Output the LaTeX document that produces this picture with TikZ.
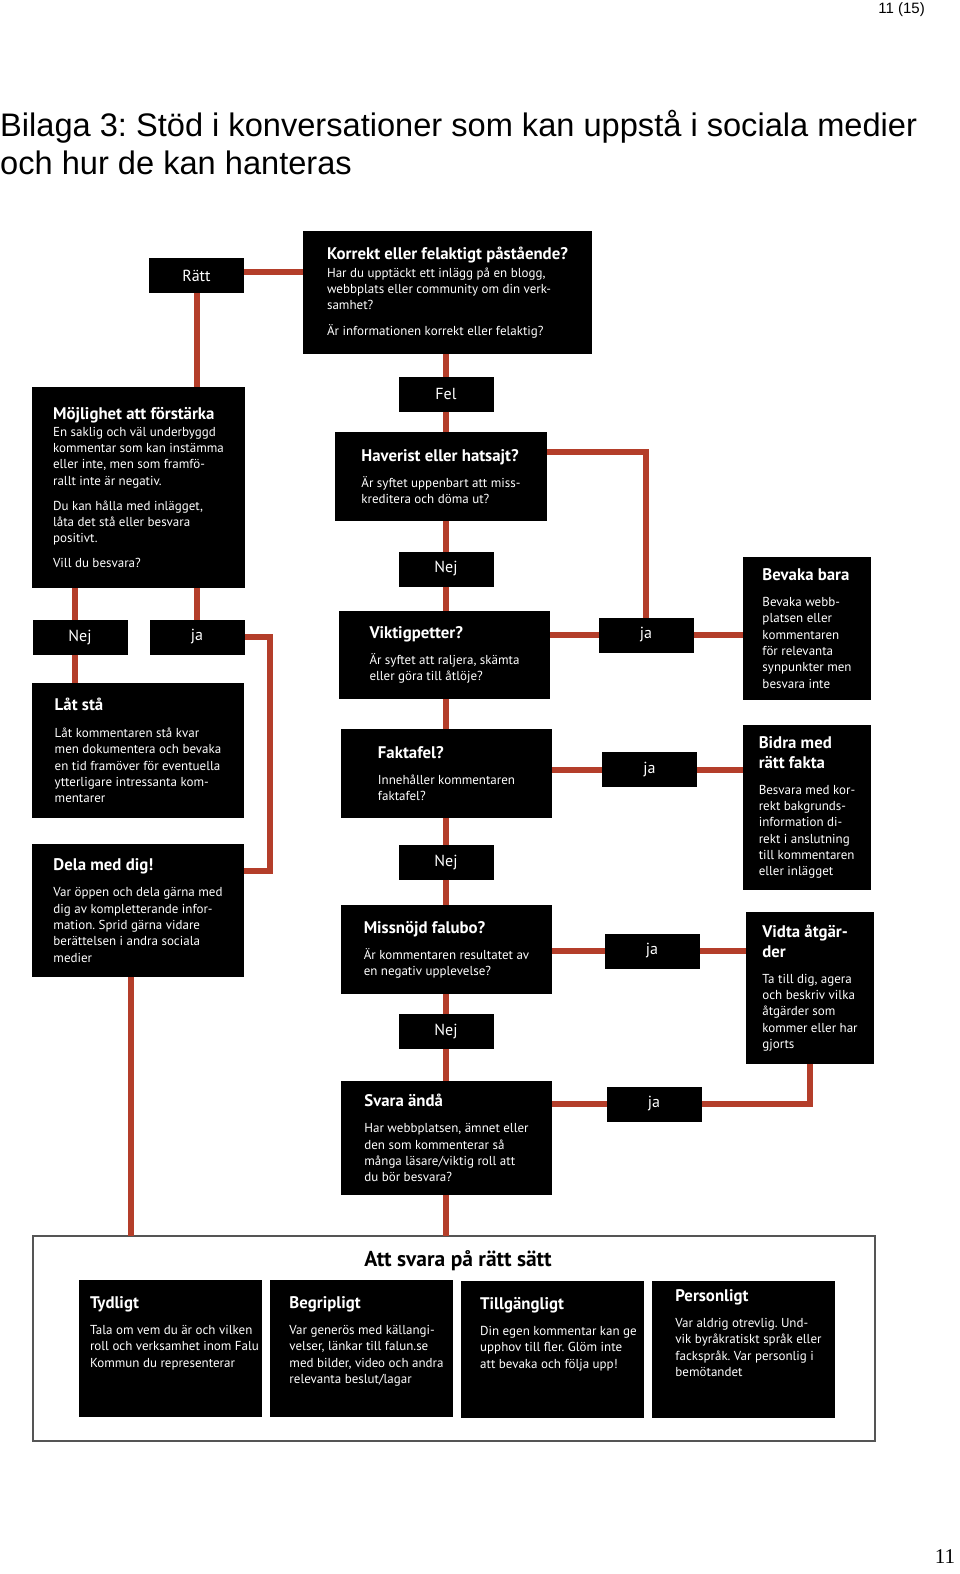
\documentclass[tikz,border=0pt]{standalone}
\usepackage{fontspec}
\setmainfont{PT Sans}
\newfontfamily\headfont{Liberation Sans}
\newfontfamily\numfont{Liberation Serif}
\definecolor{linered}{RGB}{180,62,42}
\definecolor{framegray}{RGB}{85,85,85}
\newcommand{\bodyfont}{\frenchspacing\fontsize{13}{16.3}\selectfont}
\newcommand{\boxhead}[1]{{\bfseries\fontsize{16.8}{16.3}\selectfont #1}}
\begin{document}
\frenchspacing
\begin{tikzpicture}[x=1pt,y=-1pt,
    qbox/.style={fill=black,text=white,align=left,inner sep=0pt,outer sep=0pt,font=\bodyfont},
    tagbox/.style={fill=black,text=white,inner sep=0pt,outer sep=0pt,minimum width=95pt,minimum height=35pt,font=\fontsize{16}{19}\selectfont},
    tipbox/.style={fill=black,text=white,outer sep=0pt,inner xsep=0pt,inner ysep=6.5pt,minimum width=183pt,minimum height=137pt,text height=22pt,text depth=102pt,font=\bodyfont},
    redline/.style={draw=linered,line width=6pt}]
    \useasboundingbox (0,0) rectangle (960,1574);
    % page head
    \node[anchor=north east,inner sep=0pt,font=\headfont\fontsize{15}{18}\selectfont] (pageno) at (925,2) {11 (15)};
    \node[anchor=north west,inner sep=0pt,align=left,font=\headfont\frenchspacing\fontsize{32.6}{38}\selectfont] (head) at (0,110)
        {Bilaga 3: Stöd i konversationer som kan uppstå i sociala medier\\och hur de kan hanteras};
    \node[font=\numfont\fontsize{21}{24}\selectfont] (footno) at (945,1557) {11};

    % top
    \node[tagbox] (rat) at (196.5,275.5) {Rätt};
    \node[qbox,minimum width=289pt,minimum height=123pt] (korr) at (447.5,292.5)
        {\boxhead{Korrekt eller felaktigt påstående?}\\[1.7pt]
         Har du upptäckt ett inlägg på en blogg,\\
         webbplats eller community om din verk-\\
         samhet?\\[9.7pt]
         Är informationen korrekt eller felaktig?};

    % left column
    \node[qbox,minimum width=213pt,minimum height=201pt] (moj) at (138.5,487.5)
        {\boxhead{Möjlighet att förstärka}\\[0.7pt]
         En saklig och väl underbyggd\\
         kommentar som kan instämma\\
         eller inte, men som framfö-\\
         rallt inte är negativ.\\[8.7pt]
         Du kan hålla med inlägget,\\
         låta det stå eller besvara\\
         positivt.\\[8.7pt]
         Vill du besvara?};
    \node[tagbox] (nejL) at (80,637) {Nej};
    \node[tagbox] (jaL) at (197,637) {ja};
    \node[qbox,minimum width=212pt,minimum height=135pt] (lat) at (138,750.5)
        {\boxhead{Låt stå}\\[10.7pt]
         Låt kommentaren stå kvar\\
         men dokumentera och bevaka\\
         en tid framöver för eventuella\\
         ytterligare intressanta kom-\\
         mentarer};
    \node[qbox,minimum width=212pt,minimum height=133pt] (del) at (138,910.5)
        {\boxhead{Dela med dig!}\\[9.7pt]
         Var öppen och dela gärna med\\
         dig av kompletterande infor-\\
         mation. Sprid gärna vidare\\
         berättelsen i andra sociala\\
         medier};

    % middle column
    \node[tagbox] (fel) at (446,394) {Fel};
    \node[qbox,minimum width=212pt,minimum height=89pt] (hav) at (441,476.5)
        {\boxhead{Haverist eller hatsajt?}\\[9.7pt]
         Är syftet uppenbart att miss-\\
         kreditera och döma ut?};
    \node[tagbox] (nejA) at (446,569) {Nej};
    \node[qbox,minimum width=211pt,minimum height=88pt] (vik) at (444.5,655)
        {\boxhead{Viktigpetter?}\\[9.7pt]
         Är syftet att raljera, skämta\\
         eller göra till åtlöje?};
    \node[qbox,minimum width=211pt,minimum height=89pt] (fak) at (446.5,773.5)
        {\boxhead{Faktafel?}\\[9.7pt]
         Innehåller kommentaren\\
         faktafel?};
    \node[tagbox] (nejB) at (446,862) {Nej};
    \node[qbox,minimum width=211pt,minimum height=89pt] (mis) at (446.5,949.5)
        {\boxhead{Missnöjd falubo?}\\[9.7pt]
         Är kommentaren resultatet av\\
         en negativ upplevelse?};
    \node[tagbox] (nejC) at (446,1031.5) {Nej};
    \node[qbox,minimum width=211pt,minimum height=114pt] (sva) at (446.5,1138)
        {\boxhead{Svara ändå}\\[9.7pt]
         Har webbplatsen, ämnet eller\\
         den som kommenterar så\\
         många läsare/viktig roll att\\
         du bör besvara?};

    % right column
    \node[tagbox] (jaA) at (646,635) {ja};
    \node[tagbox] (jaB) at (649.5,769.5) {ja};
    \node[tagbox] (jaC) at (652,951) {ja};
    \node[tagbox] (jaD) at (654,1104) {ja};
    \node[qbox,minimum width=128pt,minimum height=143pt] (bev) at (807,628.5)
        {\boxhead{Bevaka bara}\\[9.7pt]
         Bevaka webb-\\
         platsen eller\\
         kommentaren\\
         för relevanta\\
         synpunkter men\\
         besvara inte};
    \node[qbox,minimum width=128pt,minimum height=165pt] (bid) at (807,807.5)
        {\boxhead{Bidra med}\\[3.7pt]
         \boxhead{rätt fakta}\\[9.7pt]
         Besvara med kor-\\
         rekt bakgrunds-\\
         information di-\\
         rekt i anslutning\\
         till kommentaren\\
         eller inlägget};
    \node[qbox,minimum width=128pt,minimum height=152pt] (vid) at (810,988)
        {\boxhead{Vidta åtgär-}\\[3.7pt]
         \boxhead{der}\\[9.7pt]
         Ta till dig, agera\\
         och beskriv vilka\\
         åtgärder som\\
         kommer eller har\\
         gjorts};

    % bottom frame
    \node[draw=framegray,line width=1.6pt,fill=white,inner sep=0pt,outer sep=0pt,minimum width=842pt,minimum height=205pt] (frame) at (454,1338.5) {};
    \node[font=\bfseries\fontsize{21.5}{23}\selectfont] (frametitle) at (458,1261) {Att svara på rätt sätt};
    \node[tipbox] (tyd) at (170.5,1348.5)
        {\begin{tabular}[t]{@{\hspace{8pt}}l@{}}\boxhead{Tydligt}\\[9.7pt]
         Tala om vem du är och vilken\\
         roll och verksamhet inom Falu\\
         Kommun du representerar\end{tabular}};
    \node[tipbox] (beg) at (361.5,1348.5)
        {\begin{tabular}[t]{@{\hspace{10pt}}l@{}}\boxhead{Begripligt}\\[9.7pt]
         Var generös med källangi-\\
         velser, länkar till falun.se\\
         med bilder, video och andra\\
         relevanta beslut/lagar\end{tabular}};
    \node[tipbox] (til) at (552.5,1349.5)
        {\begin{tabular}[t]{@{\hspace{12pt}}l@{}}\boxhead{Tillgängligt}\\[9.7pt]
         Din egen kommentar kan ge\\
         upphov till fler. Glöm inte\\
         att bevaka och följa upp!\end{tabular}};
    \node[tipbox,text height=14pt,text depth=110pt] (per) at (743.5,1349.5)
        {\begin{tabular}[t]{@{\hspace{10pt}}l@{}}\boxhead{Personligt}\\[9.7pt]
         Var aldrig otrevlig. Und-\\
         vik byråkratiskt språk eller\\
         fackspråk. Var personlig i\\
         bemötandet\end{tabular}};

    % connectors
    \draw[redline] ([yshift=4pt]rat.east) -- ([yshift=4pt]rat.east -| korr.west);
    \draw[redline] (rat.south) -- (rat.south |- moj.north);
    \draw[redline] (fel |- korr.south) -- (fel.north);
    \draw[redline] (fel.south) -- (fel.south |- hav.north);
    \draw[redline] (nejA.north |- hav.south) -- (nejA.north);
    \draw[redline] (nejA.south) -- (nejA.south |- vik.north);
    \draw[redline] (nejA.south |- vik.south) -- (nejA.south |- fak.north);
    \draw[redline] (nejB.north |- fak.south) -- (nejB.north);
    \draw[redline] (nejB.south) -- (nejB.south |- mis.north);
    \draw[redline] (nejC.north |- mis.south) -- (nejC.north);
    \draw[redline] (nejC.south) -- (nejC.south |- sva.north);
    \draw[redline] (nejC.south |- sva.south) -- (nejC.south |- frame.north);
    \draw[redline] ([yshift=-20pt]hav.north east) -| (jaA.north);
    \draw[redline] (jaA.west -| vik.east) -- (jaA.west);
    \draw[redline] (jaA.east) -- (jaA.east -| bev.west);
    \draw[redline] (jaB.west -| fak.east) -- (jaB.west);
    \draw[redline] (jaB.east) -- (jaB.east -| bid.west);
    \draw[redline] (jaC.west -| mis.east) -- (jaC.west);
    \draw[redline] (jaC.east) -- (jaC.east -| vid.west);
    \draw[redline] (jaD.west -| sva.east) -- (jaD.west);
    \draw[redline] (jaD.east) -| (vid.south);
    \draw[redline] ([xshift=-5pt]nejL.north |- moj.south) -- ([xshift=-5pt]nejL.north);
    \draw[redline] ([xshift=-5pt]nejL.south) -- ([xshift=-5pt]nejL.south |- lat.north);
    \draw[redline] (jaL.north |- moj.south) -- (jaL.north);
    \draw[redline] (jaL.east) -- ++(25,0) |- ([yshift=-27pt]del.north east);
    \draw[redline] ([xshift=-7pt]del.south) -- ([xshift=-7pt]del.south |- frame.north);
\end{tikzpicture}
\end{document}
